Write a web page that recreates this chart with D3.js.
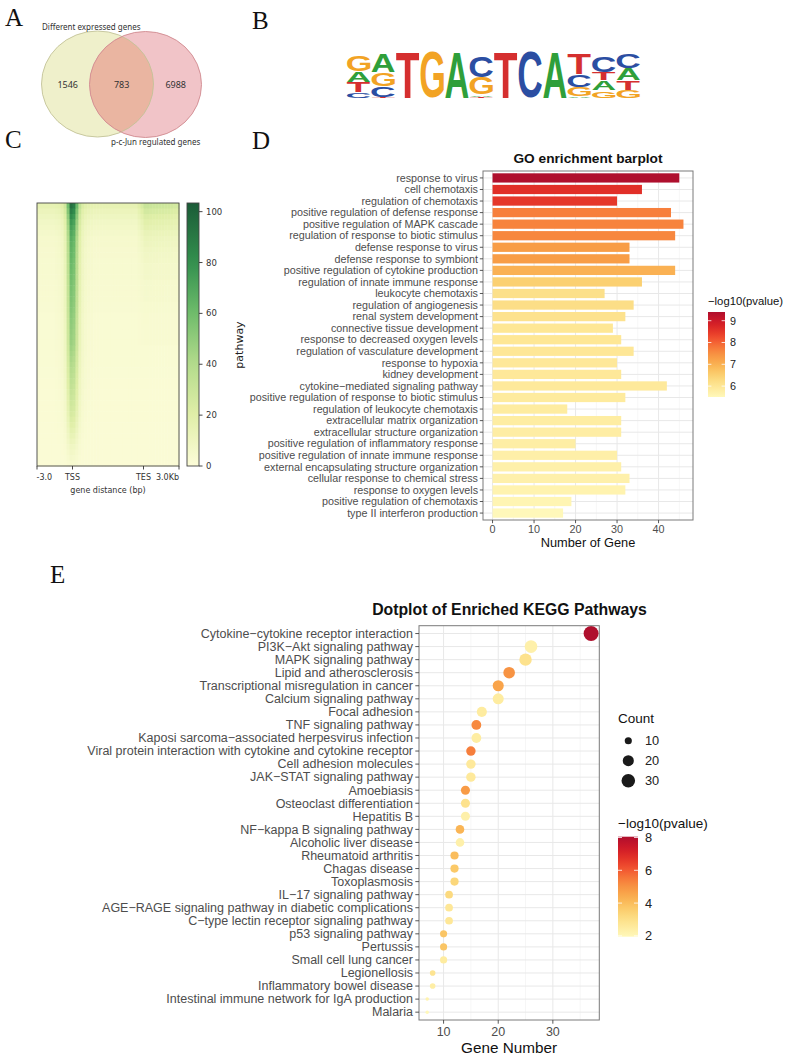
<!DOCTYPE html>
<html><head><meta charset="utf-8">
<script src="https://cdn.jsdelivr.net/npm/d3@7"></script>
<style>body{margin:0;background:#fff} svg{display:block}</style>
</head><body>
<script>
// ================= DATA =================
const panelLetters = ["A","B","C","D","E"];

// A: Venn
const vennSets = ["Different expressed genes", "p-c-Jun regulated genes"];
const vennCounts = [1546, 783, 6988];

// B: motif logo, each position = stack bottom->top of [letter, bits]
const motifPositions = [
  [["C",0.26],["T",0.44],["A",0.46],["G",0.72]],
  [["T",0.05],["C",0.45],["G",0.6],["A",0.82]],
  [["T",2.0]],
  [["G",2.0]],
  [["A",2.0]],
  [["T",0.06],["A",0.08],["G",0.75],["C",0.95]],
  [["T",2.0]],
  [["C",2.0]],
  [["A",2.0]],
  [["A",0.06],["G",0.42],["C",0.55],["T",0.9]],
  [["G",0.33],["A",0.42],["T",0.36],["C",0.68]],
  [["G",0.36],["T",0.42],["A",0.5],["C",0.65]]
];

// C: heatmap (48 rows x 48 bins), separable reading of the image
const heatRowPeak = [92,88,84,80,77,75,73,71,70,69,68,67,66,65,64,63,62,61,60,59,58,57,56,55,54,53,51,49,47,45,43,41,39,37,35,33,31,29,27,24,21,18,15,12,9,7,5,3];
const heatRowBase = [13,10,8,6,5,4,3,3,2.5,2.5,2,2,2,2,1.5,1.5,1.5,1.5,1.5,1.5,1,1,1,1,1,1,1,1,1,1,1,1,1,1,1,1,1,1,1,1,1,1,1,1,1,1,1,1];
const heatRowTES  = [16,14,12,11,10,8,7,6,5,4,4,3,3,3,2,2,2,2,1,1,1,1,1,1,1,1,0,0,0,0,0,0,0,0,0,0,0,0,0,0,0,0,0,0,0,0,0,0];
const heatColTSS  = [0.02,0.02,0.02,0.02,0.02,0.02,0.03,0.04,0.07,0.16,0.5,0.88,0.82,0.52,0.22,0.1,0.06,0.04,0.03,0.02,0.02,0.02,0.02,0.02,0.02,0.02,0.02,0.02,0.02,0.02,0.02,0.02,0.02,0.02,0.02,0.02,0.02,0.02,0.02,0.02,0.02,0.02,0.02,0.02,0.02,0.02,0.02,0.02];
const heatColTES  = [0,0,0,0,0,0,0,0,0,0,0,0,0,0,0,0,0,0,0,0,0,0,0,0,0,0,0,0,0,0,0,0,0,0,0.3,0.6,1,1,0.95,0.9,0.9,0.85,0.85,0.8,0.8,0.75,0.7,0.7];
const heatXTickLabels = ["-3.0","TSS","TES","3.0Kb"];
const heatXTickPos = [-3000, 0, 6000, 9000];
const heatCbarTicks = [0,20,40,60,80,100];

// D: GO barplot
const goTerms = [
"response to virus","cell chemotaxis","regulation of chemotaxis","positive regulation of defense response",
"positive regulation of MAPK cascade","regulation of response to biotic stimulus","defense response to virus",
"defense response to symbiont","positive regulation of cytokine production","regulation of innate immune response",
"leukocyte chemotaxis","regulation of angiogenesis","renal system development","connective tissue development",
"response to decreased oxygen levels","regulation of vasculature development","response to hypoxia","kidney development",
"cytokine\u2212mediated signaling pathway","positive regulation of response to biotic stimulus","regulation of leukocyte chemotaxis",
"extracellular matrix organization","extracellular structure organization","positive regulation of inflammatory response",
"positive regulation of innate immune response","external encapsulating structure organization","cellular response to chemical stress",
"response to oxygen levels","positive regulation of chemotaxis","type II interferon production"];
const goCounts = [45,36,30,43,46,44,33,33,44,36,27,34,32,29,31,34,30,31,42,32,18,31,31,20,30,31,33,32,19,17];
const goLogP = [9.4,8.6,8.5,7.7,7.65,7.6,7.3,7.3,7.0,6.5,6.15,6.2,6.1,6.0,6.0,5.98,5.95,5.95,5.92,5.88,5.85,5.82,5.8,5.78,5.75,5.72,5.7,5.65,5.6,5.5];
const goXTicks = [0,10,20,30,40];
const goLegendTicks = [6,7,8,9];

// E: KEGG dotplot
const keggPathways = [
"Cytokine\u2212cytokine receptor interaction","PI3K\u2212Akt signaling pathway","MAPK signaling pathway","Lipid and atherosclerosis",
"Transcriptional misregulation in cancer","Calcium signaling pathway","Focal adhesion","TNF signaling pathway",
"Kaposi sarcoma\u2212associated herpesvirus infection","Viral protein interaction with cytokine and cytokine receptor",
"Cell adhesion molecules","JAK\u2212STAT signaling pathway","Amoebiasis","Osteoclast differentiation","Hepatitis B",
"NF\u2212kappa B signaling pathway","Alcoholic liver disease","Rheumatoid arthritis","Chagas disease","Toxoplasmosis",
"IL\u221217 signaling pathway","AGE\u2212RAGE signaling pathway in diabetic complications","C\u2212type lectin receptor signaling pathway",
"p53 signaling pathway","Pertussis","Small cell lung cancer","Legionellosis","Inflammatory bowel disease",
"Intestinal immune network for IgA production","Malaria"];
const keggCounts = [37,26,25,22,20,20,17,16,16,15,15,15,14,14,14,13,13,12,12,12,11,11,11,10,10,10,8,8,7,7];
const keggLogP = [8.05,2.3,2.9,5.0,4.6,2.5,2.5,5.2,2.45,5.4,2.6,2.6,4.8,2.9,2.3,4.2,2.3,4.0,3.7,3.3,3.2,2.7,2.7,3.8,3.8,2.5,2.8,2.4,2.2,1.95];
const keggXTicks = [10,20,30];
const keggMinorTicks = [15,25,35];
const keggSizeBreaks = [10,20,30];
const keggColorBreaks = [2,4,6,8];

// ================= DRAW =================
const W = 798, H = 1060;
const svg = d3.select("body").append("svg").attr("width", W).attr("height", H);
svg.append("rect").attr("width", W).attr("height", H).attr("fill", "#fff");
const defs = svg.append("defs");
const SANS = "'Liberation Sans', Arial, sans-serif";
const MPL = "'DejaVu Sans', sans-serif";

// panel letters
const letterPos = [[5,26],[252,29],[5,148],[252,149],[50,583]];
svg.selectAll("text.plabel").data(panelLetters).join("text").attr("class","plabel")
  .attr("x",(d,i)=>letterPos[i][0]).attr("y",(d,i)=>letterPos[i][1])
  .attr("font-family","'Liberation Serif', 'DejaVu Serif', serif").attr("font-size",25).attr("fill","#111").text(d=>d);

// ---------- A: Venn ----------
{
  const g = svg.append("g");
  const L = {cx:97.5, cy:84, rx:56, ry:53}, R = {cx:145.5, cy:84.5, rx:56, ry:53};
  defs.append("clipPath").attr("id","clipL").append("ellipse").attr("cx",L.cx).attr("cy",L.cy).attr("rx",L.rx).attr("ry",L.ry);
  g.append("ellipse").attr("cx",L.cx).attr("cy",L.cy).attr("rx",L.rx).attr("ry",L.ry).attr("fill","#eff0cb");
  g.append("ellipse").attr("cx",R.cx).attr("cy",R.cy).attr("rx",R.rx).attr("ry",R.ry).attr("fill","#f1c4c8");
  g.append("ellipse").attr("cx",R.cx).attr("cy",R.cy).attr("rx",R.rx).attr("ry",R.ry).attr("fill","#eab5a1").attr("clip-path","url(#clipL)");
  g.append("ellipse").attr("cx",L.cx).attr("cy",L.cy).attr("rx",L.rx).attr("ry",L.ry).attr("fill","none").attr("stroke","#c3c398").attr("stroke-width",0.9);
  g.append("ellipse").attr("cx",R.cx).attr("cy",R.cy).attr("rx",R.rx).attr("ry",R.ry).attr("fill","none").attr("stroke","#d08a90").attr("stroke-width",0.9);
  const VF = "'Noto Sans', 'Open Sans', sans-serif";
  g.append("text").attr("x",42).attr("y",30).attr("font-family",VF).attr("font-size",8).attr("fill","#333").text(vennSets[0]);
  g.append("text").attr("x",111).attr("y",144.5).attr("font-family",VF).attr("font-size",8).attr("fill","#333").text(vennSets[1]);
  const numX = [67.7, 121.7, 175.7];
  g.selectAll("text.vn").data(vennCounts).join("text").attr("class","vn")
    .attr("x",(d,i)=>numX[i]).attr("y",87.5).attr("text-anchor","middle")
    .attr("font-family",VF).attr("font-size",9).attr("fill","#333").text(d=>d);
}

// ---------- B: Motif logo ----------
{
  const g = svg.append("g");
  const colors = {A:"#2f9f3a", C:"#2b4ea2", G:"#f2a324", T:"#d52f2f"};
  const ctx = document.createElement("canvas").getContext("2d");
  ctx.font = "bold 100px 'Liberation Sans'";
  const ink = ch => { const m = ctx.measureText(ch); return {l:m.actualBoundingBoxLeft, r:m.actualBoundingBoxRight, a:m.actualBoundingBoxAscent, d:m.actualBoundingBoxDescent}; };
  const lx = d3.scaleBand().domain(d3.range(motifPositions.length)).range([347, 640]).paddingInner(0.05);
  const ly = d3.scaleLinear().domain([0, 2]).range([98.5, 52]);
  motifPositions.forEach((stack, i) => {
    let cum = 0;
    stack.forEach(([ch, h]) => {
      const yTop = ly(cum + h), yBot = ly(cum); cum += h;
      const hh = Math.max(0.3, yBot - yTop - 0.6);
      const b = ink(ch), w = lx.bandwidth();
      const sx = w / (b.l + b.r), sy = hh / (b.a + b.d);
      g.append("text").text(ch).attr("font-family","'Liberation Sans'").attr("font-weight","bold").attr("font-size",100)
        .attr("fill", colors[ch])
        .attr("transform", `translate(${lx(i) + b.l*sx},${yTop + b.a*sy}) scale(${sx},${sy})`);
    });
  });
}

// ---------- C: Heatmap ----------
{
  const g = svg.append("g");
  const nR = heatRowPeak.length, nC = heatColTSS.length;
  const hx = d3.scaleBand().domain(d3.range(nC)).range([37, 179]);
  const hy = d3.scaleBand().domain(d3.range(nR)).range([203, 466]);
  const hcol = d3.scaleLinear().domain([0,20,40,60,80,103.4])
    .range(["#fcfcd8","#e0efa8","#b4db8c","#6fbc6b","#33904e","#1b5b37"]).clamp(true);
  const cells = [];
  for (let r = 0; r < nR; r++) for (let c = 0; c < nC; c++)
    cells.push({r, c, v: heatRowBase[r] + heatRowPeak[r]*heatColTSS[c] + heatRowTES[r]*heatColTES[c]});
  g.selectAll("rect.cell").data(cells).join("rect").attr("class","cell")
    .attr("x", d => hx(d.c)).attr("y", d => hy(d.r))
    .attr("width", hx.bandwidth()+0.5).attr("height", hy.bandwidth()+0.5)
    .attr("fill", d => hcol(d.v));
  g.append("rect").attr("x",37).attr("y",203).attr("width",142).attr("height",263)
    .attr("fill","none").attr("stroke","#444").attr("stroke-width",0.9);
  const xs = d3.scaleLinear().domain([-3000, 9000]).range([37, 179]);
  heatXTickPos.forEach((p, i) => {
    g.append("line").attr("x1",xs(p)).attr("x2",xs(p)).attr("y1",466).attr("y2",469.5).attr("stroke","#333").attr("stroke-width",0.9);
    const anchor = i === 0 ? "start" : (i === heatXTickPos.length-1 ? "end" : "middle");
    g.append("text").attr("x", xs(p) + (i===0?-0.5:0)).attr("y",479.5).attr("text-anchor",anchor)
      .attr("font-family",MPL).attr("font-size",8).attr("fill","#333").text(heatXTickLabels[i]);
  });
  g.append("text").attr("x",108).attr("y",493).attr("text-anchor","middle")
    .attr("font-family",MPL).attr("font-size",8).attr("fill","#333").text("gene distance (bp)");
  // colorbar
  const cb = d3.scaleLinear().domain([0, 103.4]).range([466, 203]);
  const grad = defs.append("linearGradient").attr("id","hgrad").attr("x1",0).attr("y1",1).attr("x2",0).attr("y2",0);
  d3.range(0, 1.0001, 0.05).forEach(t => grad.append("stop").attr("offset",t).attr("stop-color",hcol(t*103.4)));
  g.append("rect").attr("x",187).attr("y",203).attr("width",12).attr("height",263).attr("fill","url(#hgrad)")
    .attr("stroke","#444").attr("stroke-width",0.9);
  heatCbarTicks.forEach(t => {
    g.append("line").attr("x1",199).attr("x2",202.5).attr("y1",cb(t)).attr("y2",cb(t)).attr("stroke","#333").attr("stroke-width",0.9);
    g.append("text").attr("x",206).attr("y",cb(t)+3).attr("font-family",MPL).attr("font-size",8.5).attr("fill","#333").text(t);
  });
  g.append("text").attr("transform","translate(243,345) rotate(-90)").attr("text-anchor","middle")
    .attr("font-family",MPL).attr("font-size",11).attr("fill","#222").text("pathway");
}

const colorFor = domain => d3.scaleSequential(t => d3.interpolateRgb(d3.interpolateYlOrRd(0.05 + 0.84*t), "#8a7a78")(0.1 * t)).domain(domain);

// ---------- D: GO barplot ----------
{
  const g = svg.append("g");
  const L = 483, R = 693, T = 171, B = 520;
  const x = d3.scaleLinear().domain([-2.3, 48.3]).range([L, R]);
  const y = d3.scalePoint().domain(goTerms).range([T, B]).padding(0.6);
  const col = colorFor([5.5, 9.4]);
  g.append("rect").attr("x",L).attr("y",T).attr("width",R-L).attr("height",B-T).attr("fill","#fff");
  d3.range(5, 48, 10).forEach(v => g.append("line").attr("x1",x(v)).attr("x2",x(v)).attr("y1",T).attr("y2",B).attr("stroke","#f0f0f0").attr("stroke-width",0.6));
  goXTicks.forEach(v => g.append("line").attr("x1",x(v)).attr("x2",x(v)).attr("y1",T).attr("y2",B).attr("stroke","#e8e8e8").attr("stroke-width",1));
  goTerms.forEach(t => g.append("line").attr("x1",L).attr("x2",R).attr("y1",y(t)).attr("y2",y(t)).attr("stroke","#e8e8e8").attr("stroke-width",1));
  const bh = y.step()*0.8;
  g.selectAll("rect.bar").data(goTerms).join("rect").attr("class","bar")
    .attr("x", x(0)).attr("y", d => y(d) - bh/2)
    .attr("width", (d,i) => x(goCounts[i]) - x(0)).attr("height", bh)
    .attr("fill", (d,i) => col(goLogP[i]));
  g.append("rect").attr("x",L).attr("y",T).attr("width",R-L).attr("height",B-T).attr("fill","none").attr("stroke","#7a7a7a").attr("stroke-width",1);
  goTerms.forEach(t => {
    g.append("line").attr("x1",L-3.2).attr("x2",L).attr("y1",y(t)).attr("y2",y(t)).attr("stroke","#444").attr("stroke-width",0.9);
    g.append("text").attr("x",L-5).attr("y",y(t)+3.7).attr("text-anchor","end").attr("font-family",SANS).attr("font-size",10.75).attr("fill","#4d4d4d").text(t);
  });
  goXTicks.forEach(v => {
    g.append("line").attr("x1",x(v)).attr("x2",x(v)).attr("y1",B).attr("y2",B+3.2).attr("stroke","#444").attr("stroke-width",0.9);
    g.append("text").attr("x",x(v)).attr("y",B+13).attr("text-anchor","middle").attr("font-family",SANS).attr("font-size",10.8).attr("fill","#4d4d4d").text(v);
  });
  g.append("text").attr("x",(L+R)/2).attr("y",546.5).attr("text-anchor","middle").attr("font-family",SANS).attr("font-size",12.8).attr("fill","#111").text("Number of Gene");
  g.append("text").attr("x",588).attr("y",163).attr("text-anchor","middle").attr("font-family",SANS).attr("font-weight","bold").attr("font-size",13.7).attr("fill","#111").text("GO enrichment barplot");
  // legend
  const ly = d3.scaleLinear().domain([9.4, 5.5]).range([312, 397]);
  const grad = defs.append("linearGradient").attr("id","gograd").attr("x1",0).attr("y1",0).attr("x2",0).attr("y2",1);
  d3.range(0, 1.0001, 0.05).forEach(t => grad.append("stop").attr("offset",t).attr("stop-color",col(9.4 - t*3.9)));
  g.append("text").attr("x",708).attr("y",304.5).attr("font-family",SANS).attr("font-size",11.3).attr("fill","#111").text("\u2212log10(pvalue)");
  g.append("rect").attr("x",708).attr("y",312).attr("width",17).attr("height",85).attr("fill","url(#gograd)");
  goLegendTicks.forEach(v => {
    g.append("line").attr("x1",708).attr("x2",711.4).attr("y1",ly(v)).attr("y2",ly(v)).attr("stroke","#fff").attr("stroke-width",0.8);
    g.append("line").attr("x1",721.6).attr("x2",725).attr("y1",ly(v)).attr("y2",ly(v)).attr("stroke","#fff").attr("stroke-width",0.8);
    g.append("text").attr("x",730).attr("y",ly(v)+3.8).attr("font-family",SANS).attr("font-size",10.8).attr("fill","#222").text(v);
  });
}

// ---------- E: KEGG dotplot ----------
{
  const g = svg.append("g");
  const L = 419, R = 599.3, T = 625.7, B = 1020;
  const x = d3.scaleLinear().domain([5.5, 38.5]).range([L, R]);
  const y = d3.scalePoint().domain(keggPathways).range([T, B]).padding(0.6);
  const col = colorFor([1.95, 8.05]);
  const norm = d3.scaleLinear().domain([7, 37]).range([0, 1]).clamp(true);
  const diam = d3.scaleLinear().domain([0, 1]).range([3.5, 15]);
  const size = v => diam(Math.sqrt(norm(v)));
  g.append("rect").attr("x",L).attr("y",T).attr("width",R-L).attr("height",B-T).attr("fill","#fff");
  keggMinorTicks.forEach(v => g.append("line").attr("x1",x(v)).attr("x2",x(v)).attr("y1",T).attr("y2",B).attr("stroke","#f0f0f0").attr("stroke-width",0.6));
  keggXTicks.forEach(v => g.append("line").attr("x1",x(v)).attr("x2",x(v)).attr("y1",T).attr("y2",B).attr("stroke","#e8e8e8").attr("stroke-width",1));
  keggPathways.forEach(t => g.append("line").attr("x1",L).attr("x2",R).attr("y1",y(t)).attr("y2",y(t)).attr("stroke","#e8e8e8").attr("stroke-width",1));
  g.selectAll("circle.dot").data(keggPathways).join("circle").attr("class","dot")
    .attr("cx", (d,i) => x(keggCounts[i])).attr("cy", d => y(d))
    .attr("r", (d,i) => size(keggCounts[i])/2)
    .attr("fill", (d,i) => col(keggLogP[i]));
  g.append("rect").attr("x",L).attr("y",T).attr("width",R-L).attr("height",B-T).attr("fill","none").attr("stroke","#7a7a7a").attr("stroke-width",1);
  keggPathways.forEach(t => {
    g.append("line").attr("x1",L-3.7).attr("x2",L).attr("y1",y(t)).attr("y2",y(t)).attr("stroke","#444").attr("stroke-width",0.9);
    g.append("text").attr("x",L-6).attr("y",y(t)+4.3).attr("text-anchor","end").attr("font-family",SANS).attr("font-size",12.5).attr("fill","#4d4d4d").text(t);
  });
  keggXTicks.forEach(v => {
    g.append("line").attr("x1",x(v)).attr("x2",x(v)).attr("y1",B).attr("y2",B+3.7).attr("stroke","#444").attr("stroke-width",0.9);
    g.append("text").attr("x",x(v)).attr("y",B+15.5).attr("text-anchor","middle").attr("font-family",SANS).attr("font-size",12.5).attr("fill","#4d4d4d").text(v);
  });
  g.append("text").attr("x",(L+R)/2).attr("y",1053).attr("text-anchor","middle").attr("font-family",SANS).attr("font-size",15.3).attr("fill","#111").text("Gene Number");
  g.append("text").attr("x",509.5).attr("y",615).attr("text-anchor","middle").attr("font-family",SANS).attr("font-weight","bold").attr("font-size",15.8).attr("fill","#111").text("Dotplot of Enriched KEGG Pathways");
  // size legend
  g.append("text").attr("x",618).attr("y",722.5).attr("font-family",SANS).attr("font-size",13.5).attr("fill","#111").text("Count");
  keggSizeBreaks.forEach((v, i) => {
    const cy = 740.7 + i*20;
    g.append("circle").attr("cx",628.3).attr("cy",cy).attr("r",size(v)/2).attr("fill","#1a1a1a");
    g.append("text").attr("x",645).attr("y",cy+4.5).attr("font-family",SANS).attr("font-size",12.8).attr("fill","#222").text(v);
  });
  // color legend
  const ly = d3.scaleLinear().domain([8.05, 1.95]).range([836.7, 936.7]);
  const grad = defs.append("linearGradient").attr("id","kgrad").attr("x1",0).attr("y1",0).attr("x2",0).attr("y2",1);
  d3.range(0, 1.0001, 0.05).forEach(t => grad.append("stop").attr("offset",t).attr("stop-color",col(8.05 - t*6.1)));
  g.append("text").attr("x",618).attr("y",828).attr("font-family",SANS).attr("font-size",13.5).attr("fill","#111").text("\u2212log10(pvalue)");
  g.append("rect").attr("x",618).attr("y",836.7).attr("width",20).attr("height",100).attr("fill","url(#kgrad)");
  keggColorBreaks.forEach(v => {
    g.append("line").attr("x1",618).attr("x2",622).attr("y1",ly(v)).attr("y2",ly(v)).attr("stroke","#fff").attr("stroke-width",0.8);
    g.append("line").attr("x1",634).attr("x2",638).attr("y1",ly(v)).attr("y2",ly(v)).attr("stroke","#fff").attr("stroke-width",0.8);
    g.append("text").attr("x",645).attr("y",ly(v)+4.5).attr("font-family",SANS).attr("font-size",12.8).attr("fill","#222").text(v);
  });
}
</script>
</body></html>
